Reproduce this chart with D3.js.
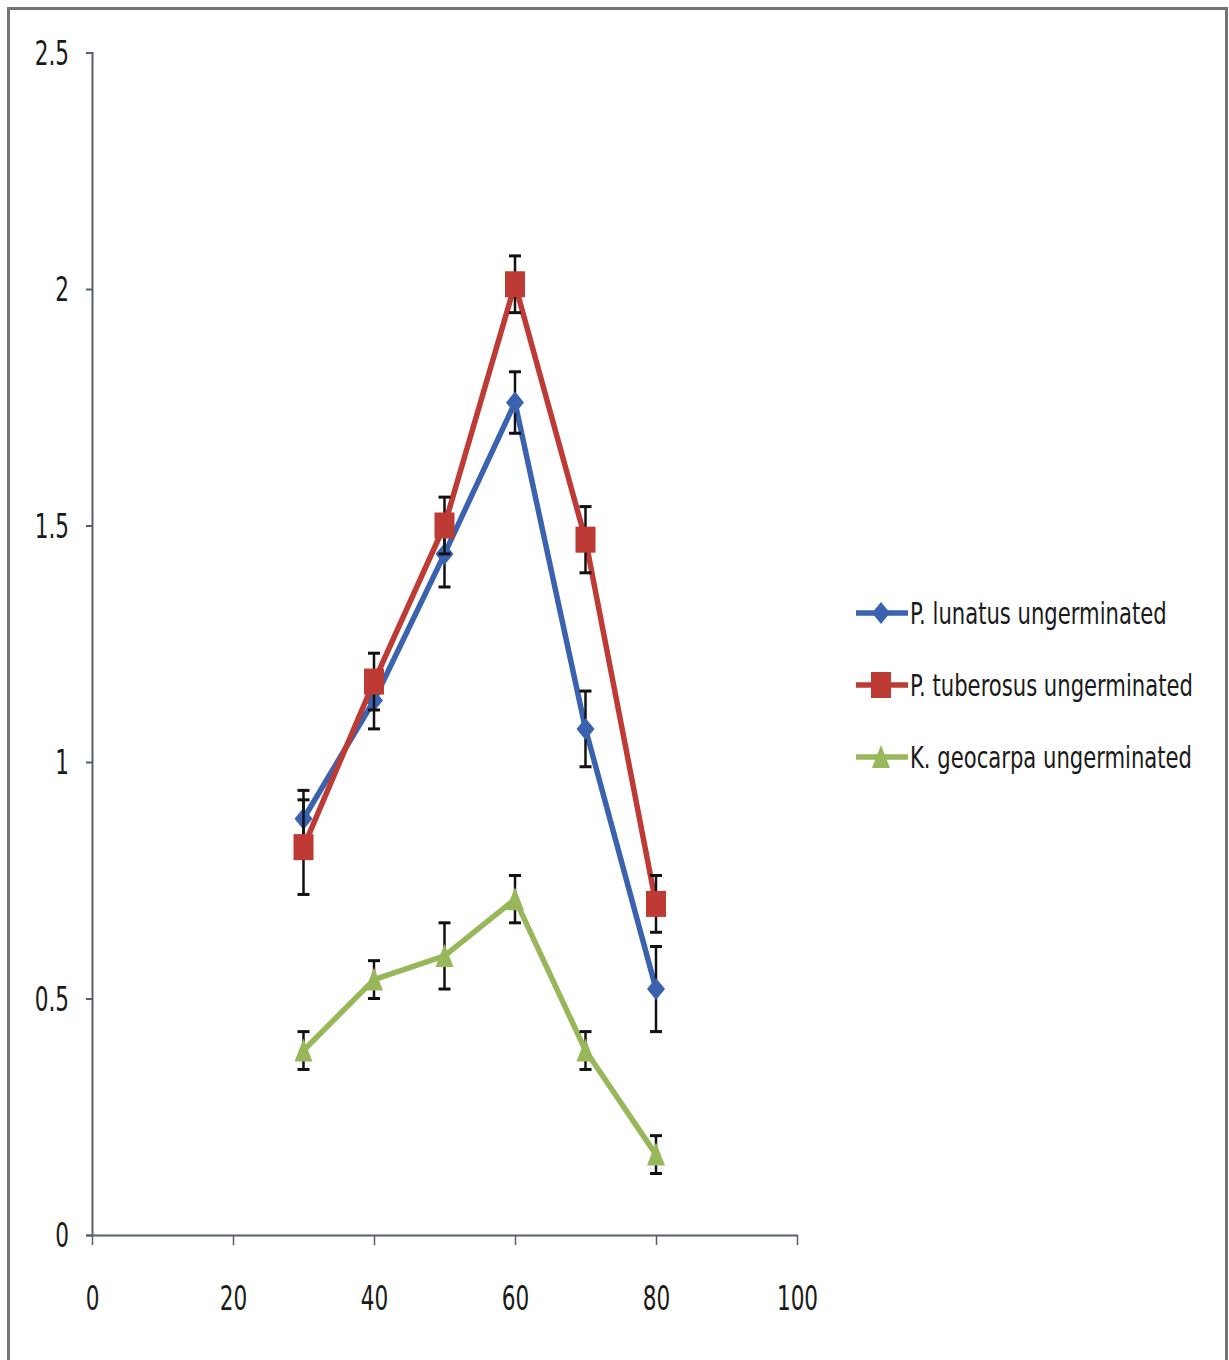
<!DOCTYPE html>
<html>
<head>
<meta charset="utf-8">
<script src="https://cdn.jsdelivr.net/npm/d3@7"></script>
<style>
  html, body { margin: 0; padding: 0; background: #ffffff; }
  svg { display: block; }
  text { font-family: "DejaVu Sans Condensed", "Liberation Sans Narrow", "Liberation Sans", sans-serif; fill: #1a1a1a; }
</style>
</head>
<body>
<script>
// Concentration readings at each temperature (x), with standard errors
const xValues = [30, 40, 50, 60, 70, 80];

const lunatusValues = [0.88, 1.13, 1.44, 1.76, 1.07, 0.52];
const lunatusErrors = [0.06, 0.06, 0.07, 0.065, 0.08, 0.09];

const tuberosusValues = [0.82, 1.17, 1.50, 2.01, 1.47, 0.70];
const tuberosusErrors = [0.10, 0.06, 0.06, 0.06, 0.07, 0.06];

const geocarpaValues = [0.39, 0.54, 0.59, 0.71, 0.39, 0.17];
const geocarpaErrors = [0.04, 0.04, 0.07, 0.05, 0.04, 0.04];

const seriesNames = ["P. lunatus ungerminated", "P. tuberosus ungerminated", "K. geocarpa ungerminated"];
const seriesColors = ["#3a62ae", "#bd3a35", "#97b75a"];
const seriesMarkers = ["diamond", "square", "triangle"];

const xTicks = [0, 20, 40, 60, 80, 100];
const yTicks = [0, 0.5, 1, 1.5, 2, 2.5];

const series = [
  { values: lunatusValues, errors: lunatusErrors },
  { values: tuberosusValues, errors: tuberosusErrors },
  { values: geocarpaValues, errors: geocarpaErrors }
].map((s, i) => ({
  name: seriesNames[i], color: seriesColors[i], marker: seriesMarkers[i],
  points: xValues.map((x, j) => ({ x, y: s.values[j], e: s.errors[j] }))
}));

const W = 1229, H = 1360;
const svg = d3.select("body").append("svg").attr("width", W).attr("height", H);

// outer frame
svg.append("rect")
  .attr("x", 8.5).attr("y", 8.5).attr("width", 1218).attr("height", 1400)
  .attr("fill", "#ffffff").attr("stroke", "#74747c").attr("stroke-width", 3);

const x = d3.scaleLinear().domain([0, 100]).range([92, 797]);
const y = d3.scaleLinear().domain([0, 2.5]).range([1235, 52.5]);

const axisColor = "#55606f";
const tickFont = 24;
const tickStretch = 1.42;

// y axis
const yAxis = svg.append("g").attr("transform", `translate(${x(0)},0)`)
  .call(d3.axisLeft(y).tickValues(yTicks).tickSize(6).tickFormat(d3.format("")));
yAxis.select(".domain").attr("stroke", axisColor).attr("stroke-width", 2);
yAxis.selectAll(".tick line").attr("stroke", axisColor).attr("stroke-width", 2);
yAxis.selectAll(".tick text").each(function () {
  d3.select(this).attr("x", null).attr("dy", null)
    .attr("text-anchor", "end").attr("dominant-baseline", "central")
    .attr("font-size", tickFont)
    .attr("transform", `translate(-23,0) scale(1,${tickStretch})`);
});

// x axis
const xAxis = svg.append("g").attr("transform", `translate(0,${y(0)})`)
  .call(d3.axisBottom(x).tickValues(xTicks).tickSize(10).tickSizeOuter(0).tickFormat(d3.format("")));
xAxis.select(".domain").attr("stroke", axisColor).attr("stroke-width", 2);
xAxis.selectAll(".tick line").attr("stroke", axisColor).attr("stroke-width", 1.5);
xAxis.selectAll(".tick text").each(function () {
  d3.select(this).attr("y", null).attr("dy", null)
    .attr("text-anchor", "middle").attr("dominant-baseline", "central")
    .attr("font-size", tickFont)
    .attr("transform", `translate(0,63) scale(1,${tickStretch})`);
});
svg.selectAll(".tick text").attr("fill", "#1a1a1a").attr("font-family", null);

function markerPath(type) {
  if (type === "diamond") return "M0,-11 L9,0 L0,11 L-9,0 Z";
  if (type === "square") return "M-10,-13 L10,-13 L10,13 L-10,13 Z";
  return "M0,-12 L9,11 L-9,11 Z";
}

const line = d3.line().x(d => x(d.x)).y(d => y(d.y));

series.forEach(s => {
  const g = svg.append("g");
  g.append("path").datum(s.points)
    .attr("d", line).attr("fill", "none")
    .attr("stroke", s.color).attr("stroke-width", 5.5).attr("stroke-linejoin", "round");

  // error bars
  const eb = g.selectAll(".eb").data(s.points).enter().append("g");
  eb.append("line")
    .attr("x1", d => x(d.x)).attr("x2", d => x(d.x))
    .attr("y1", d => y(d.y + d.e)).attr("y2", d => y(d.y - d.e))
    .attr("stroke", "#111").attr("stroke-width", 2.5);
  [1, -1].forEach(sign => {
    eb.append("line")
      .attr("x1", d => x(d.x) - 6).attr("x2", d => x(d.x) + 6)
      .attr("y1", d => y(d.y + sign * d.e)).attr("y2", d => y(d.y + sign * d.e))
      .attr("stroke", "#111").attr("stroke-width", 3);
  });

  g.selectAll(".mk").data(s.points).enter().append("path")
    .attr("d", markerPath(s.marker))
    .attr("transform", d => `translate(${x(d.x)},${y(d.y)})`)
    .attr("fill", s.color);
});

// legend
const legendY = [613, 685, 757];
series.forEach((s, i) => {
  const g = svg.append("g").attr("transform", `translate(0,${legendY[i]})`);
  g.append("line").attr("x1", 856).attr("x2", 908).attr("y1", 0).attr("y2", 0)
    .attr("stroke", s.color).attr("stroke-width", 5.5);
  g.append("path").attr("d", markerPath(s.marker))
    .attr("transform", "translate(881,0)").attr("fill", s.color);
  g.append("text").text(s.name)
    .attr("font-size", 23.5).attr("dominant-baseline", "central")
    .attr("transform", "translate(910,0) scale(1,1.3)");
});
</script>
</body>
</html>
